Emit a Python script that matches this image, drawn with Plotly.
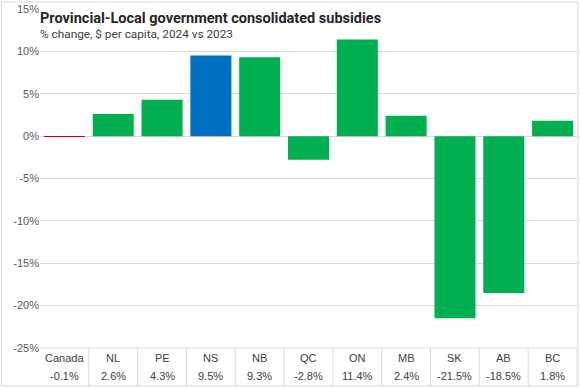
import plotly.graph_objects as go

categories = ["Canada", "NL", "PE", "NS", "NB", "QC", "ON", "MB", "SK", "AB", "BC"]
values = [-0.1, 2.6, 4.3, 9.5, 9.3, -2.8, 11.4, 2.4, -21.5, -18.5, 1.8]
bar_colors = ["#C00000", "#00B050", "#00B050", "#0070C0", "#00B050", "#00B050",
              "#00B050", "#00B050", "#00B050", "#00B050", "#00B050"]
y_ticks = [15, 10, 5, 0, -5, -10, -15, -20, -25]
y_tick_labels = ["15%", "10%", "5%", "0%", "-5%", "-10%", "-15%", "-20%", "-25%"]
title = "Provincial-Local government consolidated subsidies"
subtitle = "% change, $ per capita, 2024 vs 2023"

W, H = 580, 388
L, R, T, B = 40, 3, 9, 40
pw, ph = W - L - R, H - T - B

def px_x(p):
    return (p - L) / pw

def px_y(p):
    return (H - B - p) / ph

fig = go.Figure()
fig.add_trace(go.Bar(
    x=categories, y=values, marker=dict(color=bar_colors, line=dict(width=0)),
    hoverinfo="x+y", showlegend=False,
))

grid = "#d9d9d9"
text_col = "#595959"
font_body = "Liberation Sans, Arial, sans-serif"

fig.update_layout(
    width=W, height=H,
    margin=dict(l=L, r=R, t=T, b=B),
    paper_bgcolor="white", plot_bgcolor="white",
    bargap=0.16,
    xaxis=dict(showticklabels=False, showgrid=False, zeroline=False, showline=False,
               range=[-0.5, len(categories) - 0.5]),
    yaxis=dict(range=[-25, 15], tickmode="array", tickvals=y_ticks, ticktext=y_tick_labels,
               showgrid=True, gridcolor=grid, gridwidth=1, zeroline=False, showline=False,
               tickfont=dict(family=font_body, size=11, color=text_col), ticks=""),
)

shapes = []
# outer border
shapes.append(dict(type="rect", xref="paper", yref="paper",
                   x0=px_x(1.5), x1=px_x(578), y0=px_y(386), y1=px_y(2),
                   line=dict(color=grid, width=1), fillcolor="rgba(0,0,0,0)", layer="above"))
# title white box
shapes.append(dict(type="rect", xref="paper", yref="paper",
                   x0=px_x(40.5), x1=px_x(330), y0=px_y(45), y1=px_y(4),
                   line=dict(width=0), fillcolor="white", layer="above"))
# table lines
shapes.append(dict(type="line", xref="paper", yref="paper", x0=0, x1=1,
                   y0=px_y(348), y1=px_y(348), line=dict(color=grid, width=1)))
for i in range(1, len(categories) + 1):
    shapes.append(dict(type="line", xref="x", yref="paper", x0=i - 0.5, x1=i - 0.5,
                       y0=px_y(348), y1=px_y(386), line=dict(color=grid, width=1)))
fig.update_layout(shapes=shapes)

ann = []
for c, v in zip(categories, values):
    ann.append(dict(x=c, xref="x", y=px_y(358), yref="paper", text=c, showarrow=False,
                    font=dict(family=font_body, size=11, color="#404040"),
                    xanchor="center", yanchor="middle"))
    ann.append(dict(x=c, xref="x", y=px_y(376), yref="paper", text=f"{v:.1f}%", showarrow=False,
                    font=dict(family=font_body, size=11, color="#404040"),
                    xanchor="center", yanchor="middle"))
ann.append(dict(x=px_x(38), xref="paper", y=px_y(18), yref="paper", text=f"<b>{title}</b>",
                showarrow=False, xanchor="left", yanchor="middle",
                font=dict(family="Roboto, sans-serif", size=14.5, color="#262626")))
ann.append(dict(x=px_x(38), xref="paper", y=px_y(34), yref="paper", text=subtitle,
                showarrow=False, xanchor="left", yanchor="middle",
                font=dict(family="Roboto, sans-serif", size=11.8, color="#404040")))
fig.update_layout(annotations=ann)

fig.write_html("out.html", config={"displayModeBar": False})
with open("out.html", "r", encoding="utf-8") as f:
    html = f.read()
html = html.replace("<head>", "<head><style>html,body{margin:0;padding:0;overflow:hidden;}</style>", 1)
with open("out.html", "w", encoding="utf-8") as f:
    f.write(html)
